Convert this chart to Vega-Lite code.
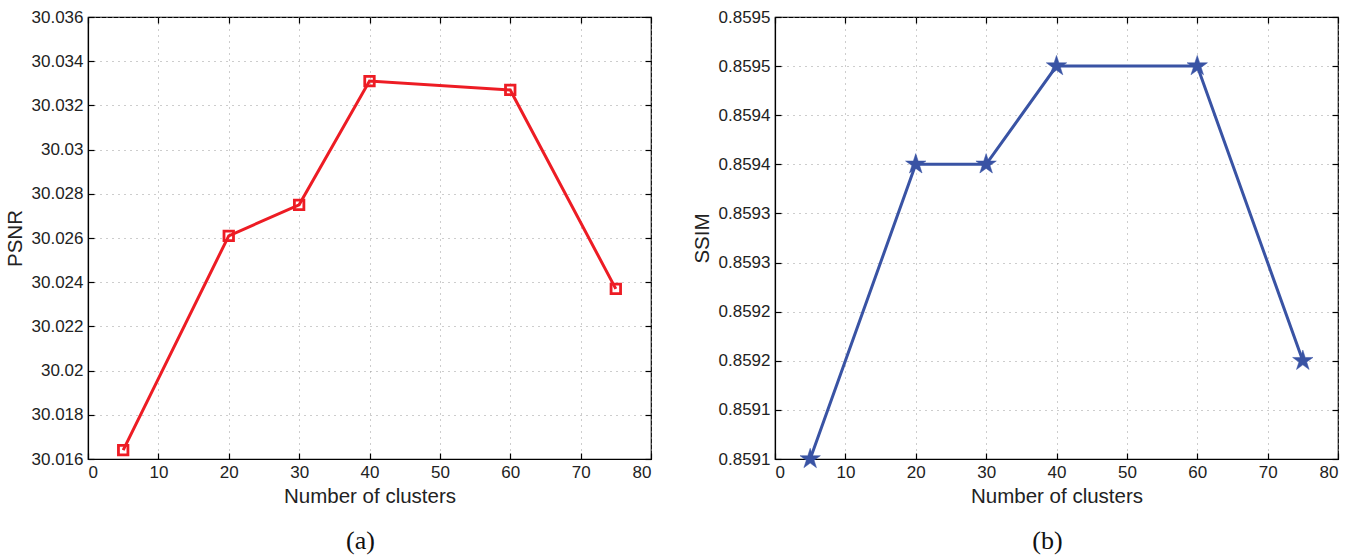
{
  "$schema": "https://vega.github.io/schema/vega-lite/v6.json",
  "padding": {"left": 4, "top": 7, "right": 5, "bottom": 0},
  "spacing": 38,
  "config": {
    "font": "Liberation Sans",
    "view": {"stroke": "#000000", "strokeWidth": 1.2},
    "axis": {
      "labelFont": "Liberation Sans",
      "labelFontSize": 17,
      "labelColor": "#222222",
      "titleFont": "Liberation Sans",
      "titleFontSize": 20.5,
      "titleFontWeight": "normal",
      "titleColor": "#222222",
      "domainColor": "#000000",
      "domainWidth": 1.2,
      "tickColor": "#000000",
      "tickWidth": 1.2,
      "tickSize": -6,
      "gridColor": "#9a9a9a",
      "gridDash": [1, 5],
      "gridWidth": 1,
      "labelPadding": 11
    },
    "title": {"font": "Liberation Serif", "fontSize": 26, "fontWeight": "normal", "color": "#111111", "orient": "bottom", "offset": 21, "dx": -9}
  },
  "hconcat": [
    {
      "width": 563,
      "height": 442,
      "title": {"text": "(a)"},
      "data": {"values": [
        {"clusters": 5, "psnr": 30.0164},
        {"clusters": 20, "psnr": 30.0261},
        {"clusters": 30, "psnr": 30.0275},
        {"clusters": 40, "psnr": 30.0331},
        {"clusters": 60, "psnr": 30.0327},
        {"clusters": 75, "psnr": 30.0237}
      ]},
      "layer": [
        {
          "mark": {"type": "line", "color": "#ED1C24", "strokeWidth": 3},
          "encoding": {
            "x": {"field": "clusters", "type": "quantitative", "scale": {"domain": [0, 80], "nice": false},
                  "axis": {"orient": "bottom", "values": [0,10,20,30,40,50,60,70,80], "title": "Number of clusters", "titlePadding": 6}},
            "y": {"field": "psnr", "type": "quantitative", "scale": {"domain": [30.016, 30.036], "nice": false, "zero": false},
                  "axis": {"orient": "left", "values": [30.016,30.018,30.02,30.022,30.024,30.026,30.028,30.03,30.032,30.034,30.036], "labelExpr": "format(datum.value, '.3~f')", "title": "PSNR", "titlePadding": 6}}
          }
        },
        {
          "mark": {"type": "point", "shape": "square", "size": 90, "filled": false, "stroke": "#ED1C24", "strokeWidth": 2.8, "opacity": 1},
          "encoding": {
            "x": {"field": "clusters", "type": "quantitative",
                  "axis": {"orient": "top", "values": [0,10,20,30,40,50,60,70,80], "labels": false, "title": null, "grid": false, "domain": false}},
            "y": {"field": "psnr", "type": "quantitative",
                  "axis": {"orient": "right", "values": [30.016,30.018,30.02,30.022,30.024,30.026,30.028,30.03,30.032,30.034,30.036], "labels": false, "title": null, "grid": false, "domain": false}}
          }
        }
      ]
    },
    {
      "width": 563,
      "height": 442,
      "title": {"text": "(b)"},
      "data": {"values": [
        {"clusters": 5, "ssim": 0.85905},
        {"clusters": 20, "ssim": 0.85935},
        {"clusters": 30, "ssim": 0.85935},
        {"clusters": 40, "ssim": 0.85945},
        {"clusters": 60, "ssim": 0.85945},
        {"clusters": 75, "ssim": 0.85915}
      ]},
      "layer": [
        {
          "mark": {"type": "line", "color": "#3953A4", "strokeWidth": 3},
          "encoding": {
            "x": {"field": "clusters", "type": "quantitative", "scale": {"domain": [0, 80], "nice": false},
                  "axis": {"orient": "bottom", "values": [0,10,20,30,40,50,60,70,80], "title": "Number of clusters", "titlePadding": 6}},
            "y": {"field": "ssim", "type": "quantitative", "scale": {"domain": [0.85905, 0.8595], "nice": false, "zero": false},
                  "axis": {"orient": "left", "values": [0.85905,0.8591,0.85915,0.8592,0.85925,0.8593,0.85935,0.8594,0.85945,0.8595], "labelExpr": "format(floor(datum.value*10000+0.5+0.000001)/10000, '.4f')", "title": "SSIM", "titlePadding": 6}}
          }
        },
        {
          "mark": {"type": "point", "shape": "M0,-1L0.225,-0.309L0.951,-0.309L0.363,0.118L0.588,0.809L0,0.382L-0.588,0.809L-0.363,0.118L-0.951,-0.309L-0.225,-0.309Z", "size": 460, "filled": true, "fill": "#3953A4", "stroke": "#3953A4", "strokeWidth": 0.5, "opacity": 1},
          "encoding": {
            "x": {"field": "clusters", "type": "quantitative",
                  "axis": {"orient": "top", "values": [0,10,20,30,40,50,60,70,80], "labels": false, "title": null, "grid": false, "domain": false}},
            "y": {"field": "ssim", "type": "quantitative",
                  "axis": {"orient": "right", "values": [0.85905,0.8591,0.85915,0.8592,0.85925,0.8593,0.85935,0.8594,0.85945,0.8595], "labels": false, "title": null, "grid": false, "domain": false}}
          }
        }
      ]
    }
  ]
}
